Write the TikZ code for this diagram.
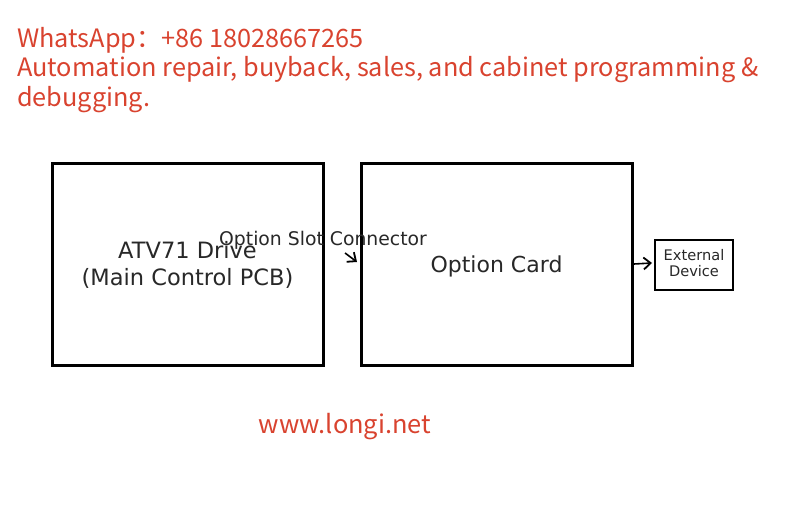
\documentclass[tikz,border=0pt]{standalone}
\usepackage{fontspec}
\setmainfont{DejaVu Sans}
\newfontfamily\cjk{Noto Sans CJK SC}
\usetikzlibrary{arrows.meta}
\definecolor{wmred}{RGB}{217,67,47}
\definecolor{txt}{RGB}{40,40,40}
\begin{document}
\begin{tikzpicture}[x=1pt,y=-1pt,
  bigbox/.style={draw=black,line width=3pt},
  smallbox/.style={draw=black,line width=1.5pt},
  lbl/.style={text=txt,inner sep=0pt,align=center},
  arr/.style={-{Straight Barb[length=7pt,width=12pt,line width=1.8pt]},line width=1.6pt},
  wm/.style={text=wmred,font=\cjk\fontsize{25.3}{29.5}\selectfont,anchor=north west,inner sep=0pt,align=left}]
\useasboundingbox (0,0) rectangle (800,529);
\fill[white] (0,0) rectangle (800,529);
\node[wm] (hdr) at (17,27) {WhatsApp：+86 18028667265\\Automation repair, buyback, sales, and cabinet programming \&\\debugging.};
\draw[bigbox] (52,164) rectangle (323,365);
\draw[bigbox] (361,164) rectangle (632,365);
\draw[smallbox] (655,240) rectangle (733,290);
\node (drive) [lbl,font=\fontsize{22.5}{27}\selectfont] at (187.5,265) {ATV71 Drive\\(Main Control PCB)};
\node (card) [lbl,font=\fontsize{22}{26}\selectfont] at (496.5,266) {Option Card};
\node (ext) [lbl,font=\fontsize{14.6}{16}\selectfont] at (694,263) {External\\Device};
\node (osc) [lbl,font=\fontsize{18.8}{22}\selectfont] at (323,240) {Option Slot Connector};
\coordinate (oscA) at (345,253);
\coordinate (oscB) at (357,262);
\draw[arr] (oscA) -- (oscB);
\coordinate (cardE) at (634,264);
\draw[arr] (cardE) -- (ext.west -| 652,0);
\node[text=wmred,font=\cjk\fontsize{25.4}{26}\selectfont,inner sep=0pt] (url) at (345,427) {www.longi.net};
\end{tikzpicture}
\end{document}
